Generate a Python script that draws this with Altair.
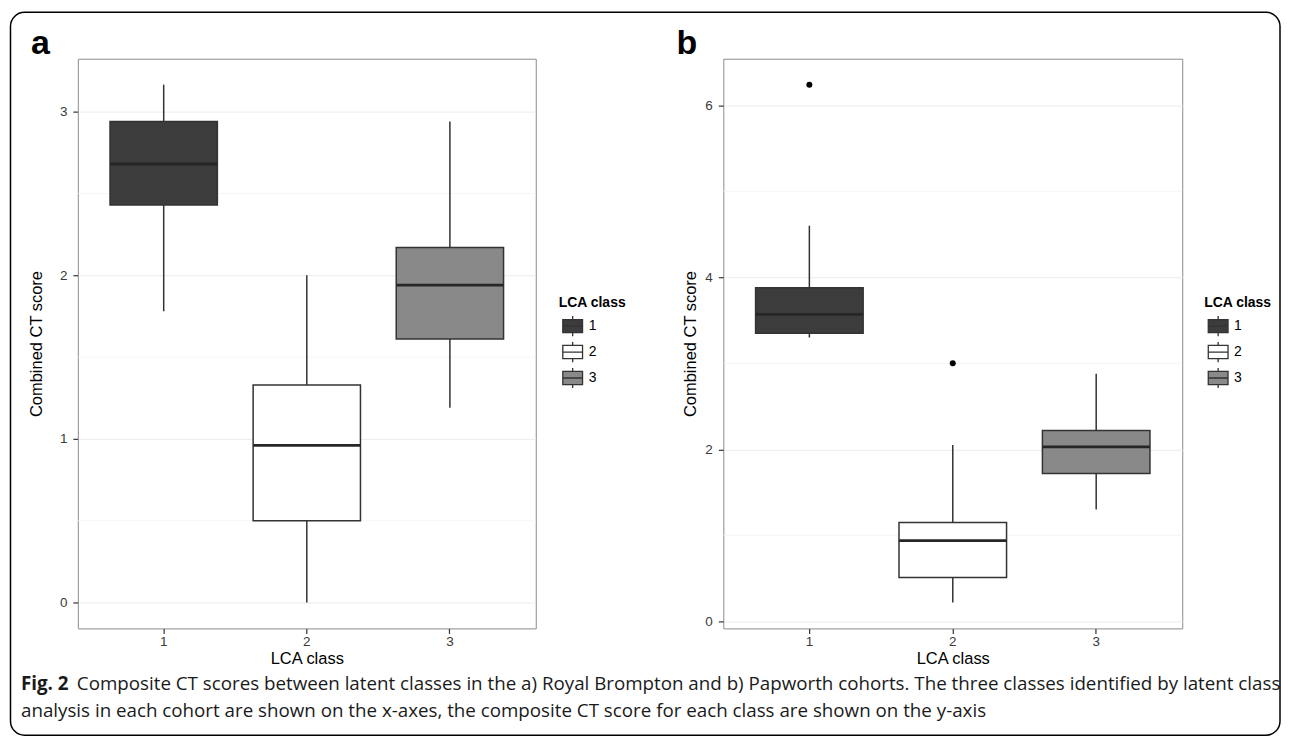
import altair as alt
import pandas as pd

# ---------------- data ----------------
classes = ["1", "2", "3"]
fills = ["#3c3c3c", "#ffffff", "#898989"]

# panel a (Royal Brompton)
a_lower = [1.78, 0.00, 1.19]
a_q1 = [2.43, 0.50, 1.61]
a_median = [2.68, 0.96, 1.94]
a_q3 = [2.94, 1.33, 2.17]
a_upper = [3.165, 2.00, 2.94]
a_out_class = []
a_out_value = []
a_ticks = [0, 1, 2, 3]
a_minor = [0.5, 1.5, 2.5]

# panel b (Papworth)
b_lower = [3.30, 0.22, 1.30]
b_q1 = [3.35, 0.51, 1.72]
b_median = [3.57, 0.94, 2.03]
b_q3 = [3.88, 1.15, 2.22]
b_upper = [4.60, 2.05, 2.88]
b_out_class = ["1", "2"]
b_out_value = [6.24, 3.00]
b_ticks = [0, 2, 4, 6]
b_minor = [1, 3, 5]

caption_bold = "Fig. 2"
caption_line1 = ("Composite CT scores between latent classes in the a) Royal Brompton and "
                 "b) Papworth cohorts. The three classes identified by latent class")
caption_line2 = ("analysis in each cohort are shown on the x-axes, the composite CT score "
                 "for each class are shown on the y-axis")

W_A, W_B, H = 459, 460, 571
AXIS_FONT = "Liberation Sans"
CAP_FONT = "Open Sans"
CAP_SIZE = 18.8

BOX_GLYPH = ("M-0.9,-0.6H0.9V0.6H-0.9Z M-0.9,0H0.9 "
             "M0,-0.6V-0.92 M0,0.6V0.92")


def text_layer(txt, x, y, **kw):
    return alt.Chart(pd.DataFrame({"t": [txt]})).mark_text(
        align="left", baseline="alphabetic", **kw
    ).encode(text="t:N", x=alt.value(x), y=alt.value(y))


def panel(letter, lower, q1, med, q3, upper, out_c, out_v, ticks, minor, width,
          ytitle_pad, extra=None):
    stats = pd.DataFrame({"cls": classes, "lower": lower, "q1": q1,
                          "median": med, "q3": q3, "upper": upper})
    lo = min(lower + out_v)
    hi = max(upper + out_v)
    pad = 0.05 * (hi - lo)
    ysc = alt.Scale(domain=[lo - pad, hi + pad], nice=False, zero=False)
    xsc = alt.Scale(domain=classes, paddingInner=0.25, paddingOuter=0.225)
    yaxis = alt.Axis(values=ticks, title="Combined CT score", format="d",
                     titlePadding=ytitle_pad)
    xaxis = alt.Axis(labelAngle=0, bandPosition=0.5, title="LCA class")
    band = 0.75 * width / 3.2

    x = alt.X("cls:N", scale=xsc, axis=xaxis)

    minor_grid = alt.Chart(pd.DataFrame({"v": minor})).mark_rule(
        color="#f2f2f2", strokeWidth=0.8
    ).encode(y=alt.Y("v:Q", scale=ysc, axis=yaxis))

    base = alt.Chart(stats)
    whisk = base.mark_rule(color="#333333", strokeWidth=1.5, opacity=1).encode(
        x=x, y=alt.Y("lower:Q", scale=ysc, axis=yaxis), y2="upper:Q")
    box = base.mark_bar(stroke="#333333", strokeWidth=1.5, opacity=1).encode(
        x=x, y=alt.Y("q1:Q", scale=ysc, axis=yaxis), y2="q3:Q",
        fill=alt.Fill("cls:N", scale=alt.Scale(domain=classes, range=fills),
                      legend=alt.Legend(
                          title="LCA class", orient="none", legendX=482, legendY=238,
                          symbolType=BOX_GLYPH, symbolSize=484,
                          symbolStrokeColor="#333333", symbolStrokeWidth=1.3,
                          labelFontSize=14, labelFont=AXIS_FONT, labelColor="#000000",
                          labelOffset=4, titleFontSize=14, titleFont=AXIS_FONT,
                          titleFontWeight="bold", titleColor="#000000", titlePadding=4,
                          rowPadding=0, padding=0, symbolOffset=2)))
    medl = base.mark_tick(color="#262626", thickness=2.8, size=band, opacity=1).encode(
        x=x, y=alt.Y("median:Q", scale=ysc, axis=yaxis))
    layers = [minor_grid, whisk, box, medl]
    if out_c:
        outs = alt.Chart(pd.DataFrame({"cls": out_c, "v": out_v})).mark_circle(
            size=36, color="#000000", opacity=1).encode(
            x=x, y=alt.Y("v:Q", scale=ysc, axis=yaxis))
        layers.append(outs)
    layers.append(text_layer(letter, -47, -5, fontSize=34, fontWeight="bold",
                             font=AXIS_FONT, color="#000000"))
    if extra:
        layers.extend(extra)
    return alt.layer(*layers).properties(width=width, height=H)


frame = alt.Chart(pd.DataFrame({"k": [0]})).mark_rect(
    fill="#ffffff", fillOpacity=0, stroke="#000000", strokeWidth=1.5, cornerRadius=14
).encode(x=alt.value(-67.5), x2=alt.value(1205), y=alt.value(-46.5), y2=alt.value(678))

caption = [
    frame,
    text_layer(caption_bold, -57, 633, fontSize=CAP_SIZE, fontWeight="bold", font=CAP_FONT,
               color="#1a1a1a"),
    text_layer(caption_line1, -1, 633, fontSize=CAP_SIZE, font=CAP_FONT, color="#1a1a1a"),
    text_layer(caption_line2, -57, 660, fontSize=CAP_SIZE, font=CAP_FONT, color="#1a1a1a"),
]

pa = panel("a", a_lower, a_q1, a_median, a_q3, a_upper, a_out_class, a_out_value,
           a_ticks, a_minor, W_A, 15, extra=caption)
pb = panel("b", b_lower, b_q1, b_median, b_q3, b_upper, b_out_class, b_out_value,
           b_ticks, b_minor, W_B, 6)

chart = alt.hconcat(pa, pb, spacing=188, bounds="flush").resolve_scale(
    x="independent", y="independent", fill="independent"
).resolve_legend(fill="independent").properties(
    padding={"left": 1, "top": 2, "right": 0, "bottom": 0}
).configure_view(
    stroke="#8c8c8c", strokeWidth=1
).configure_axis(
    labelFont=AXIS_FONT, titleFont=AXIS_FONT, labelFontSize=13.5, titleFontSize=16.5,
    labelColor="#3a3a3a", titleColor="#000000", titleFontWeight="normal",
    tickColor="#333333", tickSize=5, tickWidth=1.2, labelPadding=6,
    gridColor="#ebebeb", gridWidth=1, domain=False
).configure_axisX(
    titlePadding=3, labelPadding=1
)

chart.save("out.html", embed_options={"renderer": "svg", "actions": False})
